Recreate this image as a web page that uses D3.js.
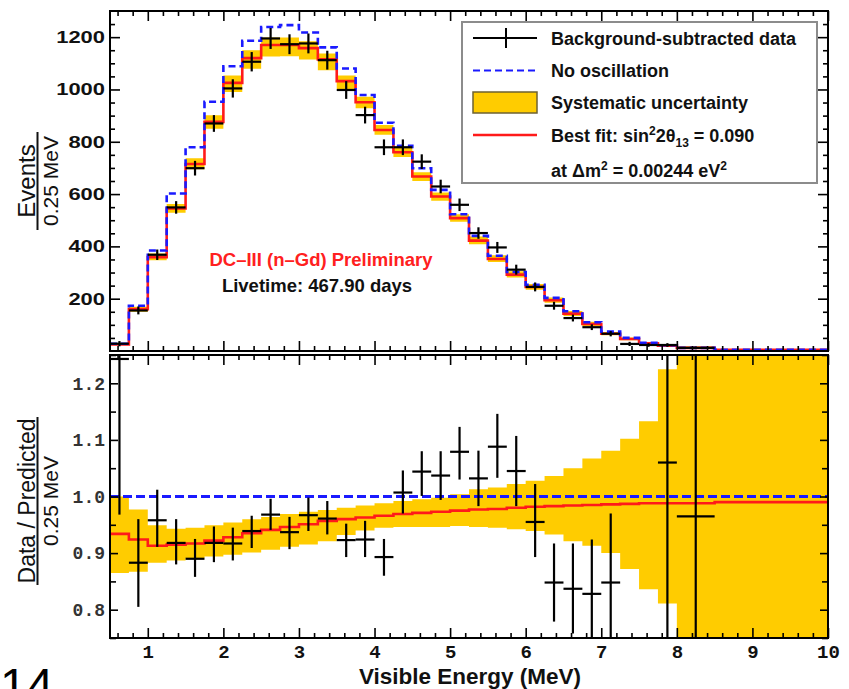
<!DOCTYPE html>
<html><head><meta charset="utf-8">
<script src="https://cdn.jsdelivr.net/npm/d3@7"></script>
<style>body{margin:0;background:#fff} svg{display:block}</style>
</head><body><svg id="c" width="849" height="689"></svg>
<script>
// Bin edges in visible energy (MeV)
const edges = [0.5, 0.75, 1.0, 1.25, 1.5, 1.75, 2.0, 2.25, 2.5, 2.75, 3.0, 3.25, 3.5, 3.75,
  4.0, 4.25, 4.5, 4.75, 5.0, 5.25, 5.5, 5.75, 6.0, 6.25, 6.5, 6.75, 7.0, 7.25, 7.5, 7.75, 8.0, 8.5, 10.0];

// Events per 0.25 MeV
const dataEvents = [28,155,368,549,699,870,1004,1106,1195,1173,1176,1112,998,902,779,779,724,629,559,451,396,311,245,173,126,91,66,27,23,23,12,null];
const dataErr    = [10,15,20,24,28,32,35,37,40,38,38,36,34,32,30,30,28,26,24,22,21,19,17,15,13,11,10,8,7,7,5,null];
const fitEvents  = [25,160,359,545,715,876,1025,1120,1170,1170,1158,1115,1032,951,845,760,667,591,508,422,352,292,245,194,143,103,66,46,29,20,12,5];
const nooscEvents= [28,173,384,602,779,953,1089,1186,1239,1246,1218,1161,1080,979,873,785,699,616,523,440,364,302,253,203,152,110,74,50,31,22,12,5];

// Data / prediction ratio
const ratioFit = [0.934,0.924,0.913,0.915,0.917,0.922,0.928,0.935,0.941,0.946,0.951,0.957,0.960,0.963,0.966,0.969,0.971,0.973,0.975,0.977,0.978,0.980,0.982,0.983,0.984,0.985,0.986,0.987,0.988,0.988,0.988,0.990];
const bandLo   = [0.865,0.867,0.883,0.887,0.891,0.894,0.897,0.901,0.906,0.911,0.915,0.921,0.932,0.940,0.945,0.946,0.946,0.946,0.948,0.946,0.945,0.942,0.939,0.933,0.921,0.913,0.900,0.872,0.836,0.811,0.60,0.60];
const bandHi   = [1.000,0.977,0.949,0.943,0.945,0.949,0.954,0.960,0.964,0.969,0.973,0.976,0.980,0.984,0.988,0.992,0.995,0.998,1.004,1.013,1.016,1.022,1.028,1.036,1.050,1.067,1.081,1.102,1.133,1.225,1.40,1.40];
const ratioData= [1.243,0.883,0.958,0.918,0.890,0.918,0.917,0.939,0.968,0.937,0.967,0.961,0.923,0.924,0.893,1.007,1.044,1.037,1.079,1.032,1.088,1.045,0.955,0.848,0.837,0.828,0.848,null,null,1.060,0.965,null];
const ratioLo  = [0.968,0.805,0.911,0.880,0.858,0.884,0.887,0.909,0.941,0.907,0.939,0.933,0.893,0.893,0.860,0.970,1.001,0.994,1.030,0.983,1.033,0.983,0.893,0.779,0.758,0.720,0.730,null,null,0.60,0.60,null];
const ratioHi  = [1.40,0.960,1.012,0.960,0.925,0.947,0.945,0.966,0.996,0.964,0.998,0.992,0.952,0.957,0.925,1.046,1.080,1.080,1.123,1.081,1.146,1.107,1.022,0.917,0.917,0.924,0.970,null,null,1.40,1.40,null];

// Tick values and labels
const energyTicks = [1,2,3,4,5,6,7,8,9,10];
const eventTicks  = [200,400,600,800,1000,1200];
const ratioTicks  = [0.8,0.9,1.0,1.1,1.2];
const ratioLabels = ["0.8","0.9","1.0","1.1","1.2"];

const svg = d3.select("#c");
const L = 110, R = 828, T1 = 11, B1 = 351, T2 = 355, B2 = 638;
const x = d3.scaleLinear().domain([0.5, 10]).range([L, R]);
const yTop = d3.scaleLinear().domain([0, 1300]).range([B1, T1]);
const yBot = d3.scaleLinear().domain([0.75, 1.25]).range([B2, T2]);

const YEL = "#ffcc00", RED = "#ff1a1a", BLUE = "#1a1aff";

const defs = svg.append("defs");
defs.append("clipPath").attr("id", "clipTop").append("rect").attr("x", L).attr("y", T1).attr("width", R - L).attr("height", B1 - T1);
defs.append("clipPath").attr("id", "clipBot").append("rect").attr("x", L).attr("y", T2).attr("width", R - L).attr("height", B2 - T2);

// step helpers
function stepPts(vals) {
  const pts = [];
  vals.forEach((v, i) => { if (v == null) return; pts.push([edges[i], v], [edges[i + 1], v]); });
  return pts;
}
function bandPts(lo, hi) {
  const pts = [];
  lo.forEach((v, i) => { pts.push({ e: edges[i], lo: v, hi: hi[i] }, { e: edges[i + 1], lo: v, hi: hi[i] }); });
  return pts;
}

// ---------- upper panel ----------
const gTop = svg.append("g").attr("clip-path", "url(#clipTop)");
const topLo = fitEvents.map((f, i) => f * bandLo[i] / ratioFit[i]);
const topHi = fitEvents.map((f, i) => f * bandHi[i] / ratioFit[i]);
gTop.append("path")
  .attr("d", d3.area().x(d => x(d.e)).y0(d => yTop(d.lo)).y1(d => yTop(d.hi))(bandPts(topLo, topHi)))
  .attr("fill", YEL);
const lineTop = d3.line().x(d => x(d[0])).y(d => yTop(d[1]));
gTop.append("path").attr("d", lineTop(stepPts(fitEvents))).attr("fill", "none").attr("stroke", RED).attr("stroke-width", 2.6);
gTop.append("path").attr("d", lineTop(stepPts(nooscEvents))).attr("fill", "none").attr("stroke", BLUE)
  .attr("stroke-width", 2.6).attr("stroke-dasharray", "7,4");
dataEvents.forEach((v, i) => {
  if (v == null) return;
  const c = (edges[i] + edges[i + 1]) / 2;
  gTop.append("line").attr("x1", x(edges[i])).attr("x2", x(edges[i + 1])).attr("y1", yTop(v)).attr("y2", yTop(v))
    .attr("stroke", "#000").attr("stroke-width", 2.2);
  gTop.append("line").attr("x1", x(c)).attr("x2", x(c)).attr("y1", yTop(v - dataErr[i])).attr("y2", yTop(v + dataErr[i]))
    .attr("stroke", "#000").attr("stroke-width", 2.2);
});

// ---------- lower panel ----------
const gBot = svg.append("g").attr("clip-path", "url(#clipBot)");
gBot.append("path")
  .attr("d", d3.area().x(d => x(d.e)).y0(d => yBot(d.lo)).y1(d => yBot(d.hi))(bandPts(bandLo, bandHi)))
  .attr("fill", YEL);
gBot.append("line").attr("x1", x(0.5)).attr("x2", x(10)).attr("y1", yBot(1)).attr("y2", yBot(1))
  .attr("stroke", BLUE).attr("stroke-width", 2.8).attr("stroke-dasharray", "9,4");
const lineBot = d3.line().x(d => x(d[0])).y(d => yBot(d[1]));
gBot.append("path").attr("d", lineBot(stepPts(ratioFit))).attr("fill", "none").attr("stroke", RED).attr("stroke-width", 2.6);
ratioData.forEach((v, i) => {
  if (v == null) return;
  const c = (edges[i] + edges[i + 1]) / 2;
  gBot.append("line").attr("x1", x(edges[i])).attr("x2", x(edges[i + 1])).attr("y1", yBot(v)).attr("y2", yBot(v))
    .attr("stroke", "#000").attr("stroke-width", 2.2);
  gBot.append("line").attr("x1", x(c)).attr("x2", x(c)).attr("y1", yBot(ratioLo[i])).attr("y2", yBot(ratioHi[i]))
    .attr("stroke", "#000").attr("stroke-width", 2.2);
});

// ---------- axes / ticks ----------
function ticks(gen, tr, vals, size) {
  svg.append("g").attr("transform", tr)
    .call(gen.tickValues(vals).tickSize(-size).tickFormat(""))
    .call(g => g.select(".domain").remove())
    .call(g => g.selectAll("line").attr("stroke", "#000").attr("stroke-width", 1.6));
}
const eMinor = d3.range(0.6, 10.0001, 0.2).filter(v => Math.abs(v - Math.round(v)) > 1e-6);
const evMinor = d3.range(50, 1300, 50).filter(v => v % 200 !== 0);
const rMinor = [0.75, 0.85, 0.95, 1.05, 1.15, 1.25];

// upper panel ticks
ticks(d3.axisTop(x), `translate(0,${T1})`, energyTicks, 10);
ticks(d3.axisTop(x), `translate(0,${T1})`, eMinor, 5);
ticks(d3.axisBottom(x), `translate(0,${B1})`, energyTicks, 10);
ticks(d3.axisBottom(x), `translate(0,${B1})`, eMinor, 5);
ticks(d3.axisRight(yTop), `translate(${R},0)`, eventTicks, 10);
ticks(d3.axisRight(yTop), `translate(${R},0)`, evMinor, 5);
ticks(d3.axisLeft(yTop), `translate(${L},0)`, evMinor, 5);
svg.append("g").attr("transform", `translate(${L},0)`)
  .call(d3.axisLeft(yTop).tickValues(eventTicks).tickSize(-10).tickPadding(5).tickFormat(d3.format("d")))
  .call(g => g.select(".domain").remove())
  .call(g => g.selectAll("line").attr("stroke", "#000").attr("stroke-width", 1.6))
  .call(g => g.selectAll("text").attr("font-family", "Liberation Sans, Arial, sans-serif")
    .attr("font-weight", "bold").attr("font-size", 17).attr("fill", "#111")
    .attr("textLength", d => String(d).length * 12.2).attr("lengthAdjust", "spacingAndGlyphs"));

// lower panel ticks
ticks(d3.axisTop(x), `translate(0,${T2})`, energyTicks, 10);
ticks(d3.axisTop(x), `translate(0,${T2})`, eMinor, 5);
ticks(d3.axisBottom(x), `translate(0,${B2})`, eMinor, 5);
ticks(d3.axisRight(yBot), `translate(${R},0)`, ratioTicks, 8);
ticks(d3.axisRight(yBot), `translate(${R},0)`, rMinor, 6);
ticks(d3.axisLeft(yBot), `translate(${L},0)`, rMinor, 6);
svg.append("g").attr("transform", `translate(0,${B2})`)
  .call(d3.axisBottom(x).tickValues(energyTicks).tickSize(-10).tickPadding(7))
  .call(g => g.select(".domain").remove())
  .call(g => g.selectAll("line").attr("stroke", "#000").attr("stroke-width", 1.6))
  .call(g => g.selectAll("text").attr("font-family", "Liberation Mono, Courier New, monospace")
    .attr("font-weight", "bold").attr("font-size", 19).attr("fill", "#111"));
svg.append("g").attr("transform", `translate(${L},0)`)
  .call(d3.axisLeft(yBot).tickValues(ratioTicks).tickSize(-8).tickPadding(5).tickFormat((d, i) => ratioLabels[i]))
  .call(g => g.select(".domain").remove())
  .call(g => g.selectAll("line").attr("stroke", "#000").attr("stroke-width", 1.6))
  .call(g => g.selectAll("text").attr("font-family", "Liberation Mono, Courier New, monospace")
    .attr("font-weight", "bold").attr("font-size", 18).attr("fill", "#333"));

// frames
[[T1, B1], [T2, B2]].forEach(([t, b]) => {
  svg.append("rect").attr("x", L).attr("y", t).attr("width", R - L).attr("height", b - t)
    .attr("fill", "none").attr("stroke", "#000").attr("stroke-width", 2);
});

// ---------- legend ----------
const F = "Liberation Sans, Arial, Helvetica, sans-serif";
const lg = svg.append("g");
lg.append("rect").attr("x", 462).attr("y", 22).attr("width", 355).attr("height", 161)
  .attr("fill", "#fff").attr("stroke", "#8c8c8c").attr("stroke-width", 2);
lg.append("line").attr("x1", 473).attr("x2", 537).attr("y1", 38).attr("y2", 38).attr("stroke", "#000").attr("stroke-width", 2);
lg.append("line").attr("x1", 506).attr("x2", 506).attr("y1", 28).attr("y2", 48).attr("stroke", "#000").attr("stroke-width", 2);
lg.append("line").attr("x1", 473).attr("x2", 537).attr("y1", 70.5).attr("y2", 70.5).attr("stroke", BLUE)
  .attr("stroke-width", 2.2).attr("stroke-dasharray", "7,4");
lg.append("rect").attr("x", 473).attr("y", 92).attr("width", 64).attr("height", 21)
  .attr("fill", YEL).attr("stroke", "#6e6232").attr("stroke-width", 1.5);
lg.append("line").attr("x1", 473).attr("x2", 537).attr("y1", 135).attr("y2", 135).attr("stroke", RED).attr("stroke-width", 2.4);

const lt = (y) => lg.append("text").attr("x", 551).attr("y", y).attr("font-family", F)
  .attr("font-weight", "bold").attr("font-size", 18).attr("fill", "#111");
lt(44.5).text("Background-subtracted data");
lt(76.5).text("No oscillation");
lt(108.5).text("Systematic uncertainty");
const bf = lt(141.5);
bf.append("tspan").text("Best fit: sin");
bf.append("tspan").attr("dy", -7).attr("font-size", 12).text("2");
bf.append("tspan").attr("dy", 7).text("2θ");
bf.append("tspan").attr("dy", 5).attr("font-size", 12).text("13");
bf.append("tspan").attr("dy", -5).text(" = 0.090");
const dm = lt(176.5);
dm.append("tspan").text("at  Δm");
dm.append("tspan").attr("dy", -7).attr("font-size", 12).text("2");
dm.append("tspan").attr("dy", 7).text(" = 0.00244 eV");
dm.append("tspan").attr("dy", -7).attr("font-size", 12).text("2");

// ---------- annotations ----------
svg.append("text").attr("x", 321).attr("y", 266).attr("text-anchor", "middle").attr("font-family", F)
  .attr("font-weight", "bold").attr("font-size", 18.5).attr("fill", "#ff2020").text("DC–III (n–Gd) Preliminary");
svg.append("text").attr("x", 317).attr("y", 292).attr("text-anchor", "middle").attr("font-family", F)
  .attr("font-weight", "bold").attr("font-size", 18.5).attr("fill", "#111").text("Livetime: 467.90 days");

// ---------- axis titles ----------
function fracTitle(cy, top, bottom, lineHalf, topSize) {
  svg.append("text").attr("transform", `translate(35,${cy}) rotate(-90)`).attr("text-anchor", "middle")
    .attr("font-family", F).attr("font-size", topSize).attr("fill", "#111").text(top);
  svg.append("line").attr("x1", 37.5).attr("x2", 37.5).attr("y1", cy - lineHalf).attr("y2", cy + lineHalf)
    .attr("stroke", "#111").attr("stroke-width", 2);
  svg.append("text").attr("transform", `translate(58,${cy}) rotate(-90)`).attr("text-anchor", "middle")
    .attr("font-family", F).attr("font-size", 21).attr("fill", "#111").text(bottom);
}
fracTitle(181, "Events", "0.25 MeV", 49, 24);
fracTitle(501, "Data / Predicted", "0.25 MeV", 84, 23);

svg.append("text").attr("x", 470).attr("y", 684).attr("text-anchor", "middle").attr("font-family", F)
  .attr("font-weight", "bold").attr("font-size", 22.5).attr("fill", "#111").text("Visible Energy (MeV)");

// page number
svg.append("text").attr("x", 0).attr("y", 702).attr("font-family", F).attr("font-size", 48)
  .attr("fill", "#000").text("14");
</script></body></html>
